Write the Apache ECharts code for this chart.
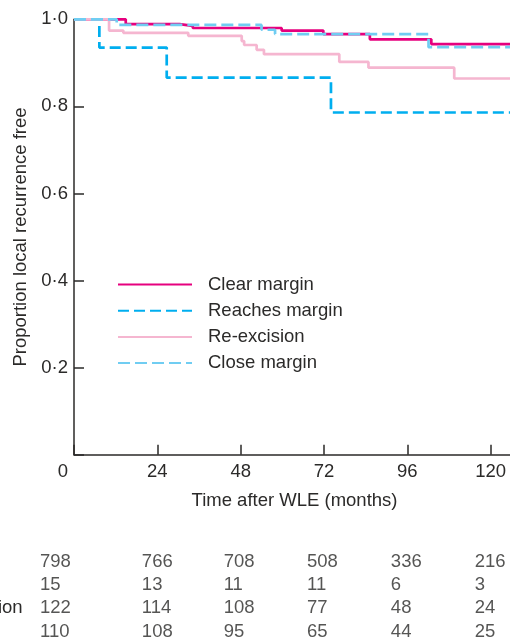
<!DOCTYPE html>
<html><head><meta charset="utf-8">
<script src="https://cdn.jsdelivr.net/npm/echarts@6/dist/echarts.min.js"></script>
<style>html,body{margin:0;padding:0;background:#fff}#c{width:510px;height:642px}</style>
</head><body><div id="c"></div>
<script>
// ---- data ----
const monthTicks = [0, 24, 48, 72, 96, 120];
const yTickLabels = ['0', '0·2', '0·4', '0·6', '0·8', '1·0'];
const seriesNames = ['Clear margin', 'Reaches margin', 'Re-excision', 'Close margin'];
const rowLabels = ['Clear', 'Reaches', 'Re-excision', 'Close'];
// Kaplan-Meier step curves: [months, proportion free]
const clearMargin = [[0,1],[14.9,0.989],[30.4,0.985],[34.2,0.980],[59.8,0.974],[71.8,0.966],[85.2,0.954],[102.9,0.943],[127,0.943]];
const reachesMargin = [[0,1],[7.3,0.935],[26.7,0.866],[74.0,0.786],[127,0.786]];
const reExcision = [[0,1],[10.1,0.974],[14.2,0.969],[32.9,0.962],[48.3,0.950],[49.0,0.941],[52.6,0.930],[54.7,0.920],[76.4,0.902],[84.8,0.889],[109.5,0.864],[127,0.864]];
const closeMargin = [[0,1],[12.3,0.987],[54.0,0.976],[57.9,0.966],[102.1,0.936],[127,0.936]];
// numbers at risk
const atRiskClear = [798, 766, 708, 508, 336, 216];
const atRiskReaches = [15, 13, 11, 11, 6, 3];
const atRiskReExcision = [122, 114, 108, 77, 48, 24];
const atRiskClose = [110, 108, 95, 65, 44, 25];

// ---- styles ----
const TXT = '#2b2a29';
const FONT = 'Liberation Sans, Arial, sans-serif';
const FS = 18.5;
const colOffsets = [-34, -15.5, -17, -17, -16.5, -16];
const curveStyles = [
  {color: '#E6007E', type: 'solid', width: 2.7},
  {color: '#00AEEF', type: [11, 5], width: 2.7},
  {color: '#F5B6D0', type: 'solid', width: 2.7},
  {color: '#70CDF2', type: [12, 5], width: 2.7}
];
const curves = [clearMargin, reachesMargin, reExcision, closeMargin];
const atRisk = [atRiskClear, atRiskReaches, atRiskReExcision, atRiskClose];

const chart = echarts.init(document.getElementById('c'), null, {renderer: 'canvas'});

const series = curves.map((d, i) => ({
  name: seriesNames[i],
  type: 'line',
  step: 'end',
  xAxisIndex: 0, yAxisIndex: 0,
  data: d,
  symbol: 'none',
  showSymbol: false,
  color: curveStyles[i].color,
  lineStyle: {color: curveStyles[i].color, type: curveStyles[i].type, width: curveStyles[i].width},
  emphasis: {disabled: true},
  silent: true,
  z: 2 + i
}));

atRisk.forEach((row, r) => {
  series.push({
    name: 'risk-' + rowLabels[r],
    type: 'scatter',
    xAxisIndex: 1, yAxisIndex: 1,
    symbolSize: 0,
    silent: true,
    data: row.map((v, c) => ({
      value: [monthTicks[c], r, v],
      label: {offset: [colOffsets[c], 0]}
    })),
    label: {
      show: true, position: 'inside', align: 'left', verticalAlign: 'middle',
      color: TXT, fontSize: FS, fontFamily: FONT,
      formatter: p => String(p.value[2])
    }
  });
});

chart.setOption({
  animation: false,
  backgroundColor: '#fff',
  textStyle: {fontFamily: FONT, color: TXT},
  grid: [
    {left: 74, right: -5, top: 19.3, height: 435.4, containLabel: false, outerBoundsMode: 'none'},
    {left: 74, right: -5, top: 550, height: 93.3, containLabel: false, outerBoundsMode: 'none'}
  ],
  legend: {
    data: seriesNames,
    orient: 'vertical',
    left: 112, top: 270,
    itemWidth: 74, itemHeight: 14, itemGap: 7.2,
    selectedMode: false,
    itemStyle: {opacity: 0},
    textStyle: {fontSize: FS, color: TXT, fontFamily: FONT, padding: [0, 0, 0, 11]}
  },
  xAxis: [
    {
      type: 'value', gridIndex: 0, min: 0, max: 127, interval: 24,
      name: 'Time after WLE (months)', nameLocation: 'middle', nameGap: 37,
      nameTextStyle: {fontSize: FS, color: TXT, fontFamily: FONT},
      axisLine: {show: true, lineStyle: {color: TXT, width: 1.5}},
      axisTick: {show: true, inside: true, length: 10, lineStyle: {color: TXT, width: 1.5}},
      splitLine: {show: false},
      axisLabel: {
        margin: 8, color: TXT, fontSize: FS, fontFamily: FONT, showMaxLabel: false,
        formatter: v => {
          const i = monthTicks.indexOf(v);
          if (i < 0) return '';
          return i === 0 ? '{z|' + monthTicks[i] + '}' : String(monthTicks[i]);
        },
        rich: {z: {fontSize: FS, color: TXT, fontFamily: FONT, padding: [0, 22, 0, 0]}}
      }
    },
    {
      type: 'value', gridIndex: 1, min: 0, max: 127, show: false
    }
  ],
  yAxis: [
    {
      type: 'value', gridIndex: 0, min: 0, max: 1, interval: 0.2,
      name: 'Proportion local recurrence free', nameLocation: 'middle', nameGap: 43,
      nameTextStyle: {fontSize: FS, color: TXT, fontFamily: FONT},
      axisLine: {show: true, lineStyle: {color: TXT, width: 1.5}},
      axisTick: {show: true, inside: true, length: 10, lineStyle: {color: TXT, width: 1.5}},
      splitLine: {show: false},
      axisLabel: {
        margin: 6, color: TXT, fontSize: FS, fontFamily: FONT,
        formatter: v => {
          const i = Math.round(v / 0.2);
          return i === 0 ? '' : yTickLabels[i];
        }
      }
    },
    {
      type: 'category', gridIndex: 1, data: rowLabels, inverse: true,
      axisLine: {show: false}, axisTick: {show: false}, splitLine: {show: false},
      axisLabel: {show: true, interval: 0, hideOverlap: false, align: 'left', margin: 148, color: TXT, fontSize: FS, fontFamily: FONT}
    }
  ],
  series: series
});
</script>
</body></html>
